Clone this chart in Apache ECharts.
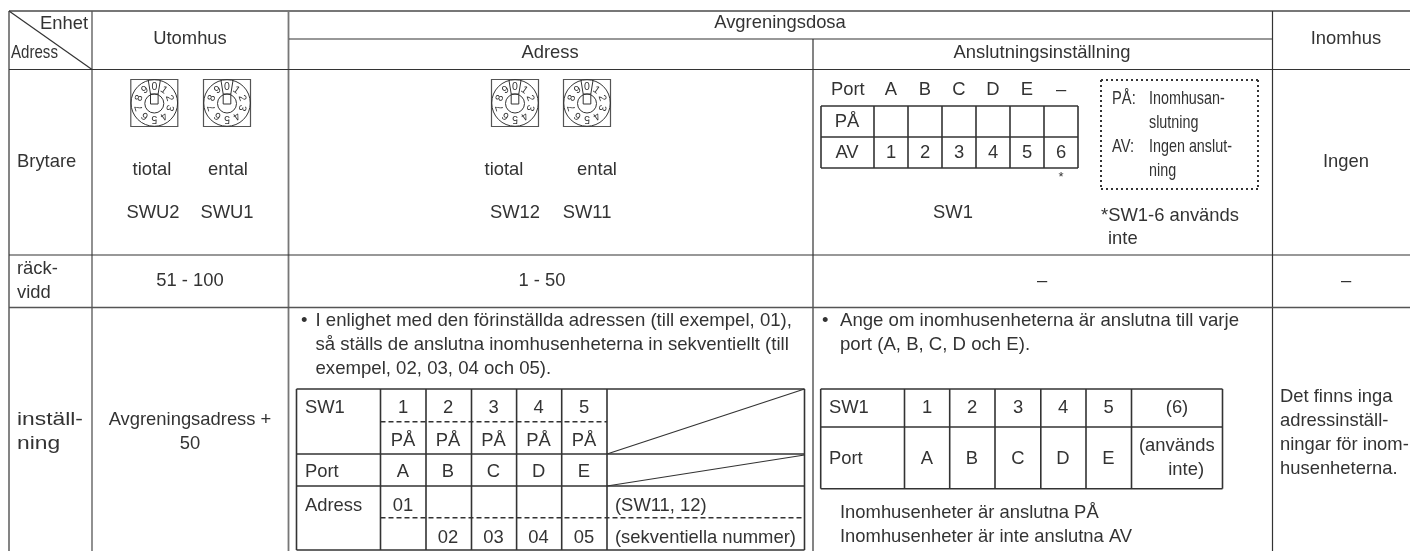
<!DOCTYPE html>
<html><head><meta charset="utf-8">
<style>html,body{margin:0;padding:0;background:#fff}#c{width:1410px;height:551px}</style>
<script src="https://cdn.jsdelivr.net/npm/echarts@6/dist/echarts.min.js"></script>
</head><body><div id="c"></div>
<script>
// ---- content ----
const unitHeaders = ['Enhet', 'Adress', 'Utomhus', 'Avgreningsdosa', 'Adress', 'Anslutningsinställning', 'Inomhus'];
const rowLabels = ['Brytare', 'räck-', 'vidd', 'inställ-', 'ning'];
const dialDigits = ['0', '1', '2', '3', '4', '5', '6', '7', '8', '9'];
const digitNames = ['tiotal', 'ental'];
const outdoorSwitches = ['SWU2', 'SWU1'];
const branchSwitches = ['SW12', 'SW11'];
const ports = ['A', 'B', 'C', 'D', 'E'];
const portNumbers = ['1', '2', '3', '4', '5'];
const onOff = ['PÅ', 'AV'];
const addresses = ['01', '02', '03', '04', '05'];
const ranges = ['51 - 100', '1 - 50', '–', '–'];
const legendLines = ['Inomhusan-', 'slutning', 'Ingen anslut-', 'ning'];
const noteLines = ['*SW1-6 används', 'inte'];
const addrLines = ['I enlighet med den förinställda adressen (till exempel, 01),', 'så ställs de anslutna inomhusenheterna in sekventiellt (till', 'exempel, 02, 03, 04 och 05).'];
const connLines = ['Ange om inomhusenheterna är anslutna till varje', 'port (A, B, C, D och E).'];
const connNotes = ['Inomhusenheter är anslutna PÅ', 'Inomhusenheter är inte anslutna AV'];
const indoorNote = ['Det finns inga', 'adressinställ-', 'ningar för inom-', 'husenheterna.'];
const outdoorSetting = ['Avgreningsadress +', '50'];

// ---- layout ----
const FS = 18.4, FL = 18.6, DY = 0.8;
const T = [];
function t(s, x, y, o) { T.push(Object.assign({ s, x, y: y + DY, a: 'left', fs: FS, sx: 1 }, o || {})); }
const C = { a: 'center' };
// header
t(unitHeaders[0], 88, 23, { a: 'right' });
t(unitHeaders[1], 11, 52, { sx: 0.82 });
t(unitHeaders[2], 190, 38, C);
t(unitHeaders[3], 780, 22, C);
t(unitHeaders[4], 550, 52, C);
t(unitHeaders[5], 1042, 52, C);
t(unitHeaders[6], 1346, 38, C);
// row labels
t(rowLabels[0], 17, 161);
t(rowLabels[1], 17, 268);
t(rowLabels[2], 17, 292);
t(rowLabels[3], 17, 419, { sx: 1.24 });
t(rowLabels[4], 17, 443, { sx: 1.24 });
// switch row
t(digitNames[0], 152, 169, C); t(digitNames[1], 228, 169, C);
t(outdoorSwitches[0], 153, 212, C); t(outdoorSwitches[1], 227, 212, C);
t(digitNames[0], 504, 169, C); t(digitNames[1], 597, 169, C);
t(branchSwitches[0], 515, 212, C); t(branchSwitches[1], 587, 212, C);
t('Port', 831, 89);
const smallCx = [891, 925, 959, 993, 1027, 1061];
ports.forEach((p, i) => t(p, smallCx[i], 89, C));
t('–', smallCx[5], 89, C);
t(onOff[0], 847, 121, C); t(onOff[1], 847, 152, C);
portNumbers.concat(['6']).forEach((p, i) => t(p, smallCx[i], 152, C));
t('*', 1061, 177, { a: 'center', fs: 13 });
t(onOff[0] + ':', 1112, 98, { sx: 0.8 });
t(onOff[1] + ':', 1112, 146, { sx: 0.8 });
[98, 122, 146, 170].forEach((y, i) => t(legendLines[i], 1149, y, { sx: 0.78 }));
t('SW1', 953, 212, C);
t(noteLines[0], 1101, 215); t(noteLines[1], 1108, 238);
t('Ingen', 1346, 161, C);
// range row
t(ranges[0], 190, 280, C); t(ranges[1], 542, 280, C); t(ranges[2], 1042, 280, C); t(ranges[3], 1346, 280, C);
// setting row
t(outdoorSetting[0], 190, 419, C); t(outdoorSetting[1], 190, 443, C);
t('•', 301, 320); t('•', 822, 320);
[320, 344, 368].forEach((y, i) => t(addrLines[i], 315.5, y, { fs: FL }));
[320, 344].forEach((y, i) => t(connLines[i], 840, y, { fs: FL }));
const aCx = [403, 448, 493.5, 538.6, 584];
t('SW1', 305, 407.5); t('Port', 305, 471); t('Adress', 305, 505);
aCx.forEach((x, i) => {
  t(portNumbers[i], x, 407.5, C); t(onOff[0], x, 440, C); t(ports[i], x, 471, C);
  if (i) t(addresses[i], x, 537, C);
});
t(addresses[0], aCx[0], 505, C);
t('(SW11, 12)', 615, 505); t('(sekventiella nummer)', 615, 537);
const bCx = [927, 972, 1018, 1063, 1108.5];
t('SW1', 829, 407.5); t('Port', 829, 458);
bCx.forEach((x, i) => { t(portNumbers[i], x, 407.5, C); t(ports[i], x, 458, C); });
t('(6)', 1177, 407.5, C); t('(används', 1139, 445); t('inte)', 1204, 469, { a: 'right' });
[512.5, 536].forEach((y, i) => t(connNotes[i], 840, y));
[396, 420, 444, 468].forEach((y, i) => t(indoorNote[i], 1280, y));

const GRAY = { c: '#777', w: 1.8 }, DK = { c: '#333', w: 1.2 }, MID = { c: '#555', w: 1.3 }, TB = { c: '#333', w: 1.6 }, DOT = { c: '#333', w: 2 };
const R = [];
function l(x1, y1, x2, y2, st, dash) { R.push({ x1, y1, x2, y2, st, dash }); }
// outer grid
l(9, 11, 1410, 11, GRAY);
l(9, 11, 9, 551, GRAY); l(92, 11, 92, 551, MID); l(288.5, 11, 288.5, 551, GRAY);
l(813, 39, 813, 551, GRAY); l(1272.5, 11, 1272.5, 551, DK);
l(289, 39, 1272, 39, DK); l(9, 69.5, 1410, 69.5, DK); l(9, 255, 1410, 255, DK); l(9, 307.5, 1410, 307.5, MID);
l(9, 11, 92, 69.5, DK);
// small on/off table
const sx = [821, 874, 908, 942, 976, 1010, 1044, 1078];
[106, 137, 168].forEach(y => l(sx[0], y, sx[7], y, TB));
sx.forEach(x => l(x, 106, x, 168, TB));
// dotted legend box
const dot = [2, 3];
l(1101, 80, 1258, 80, DOT, dot); l(1101, 189, 1258, 189, DOT, dot);
l(1101, 80, 1101, 189, DOT, dot); l(1258, 80, 1258, 189, DOT, dot);
// address table
const ax = [296.5, 380.5, 426, 471.5, 516.6, 561.7, 607, 804.5];
[389, 454, 486, 550].forEach(y => l(ax[0], y, ax[7], y, TB));
ax.forEach(x => l(x, 389, x, 550, TB));
const dash = [5, 3];
l(ax[1], 421.7, ax[6], 421.7, TB, dash); l(ax[1], 517.7, ax[7], 517.7, TB, dash);
l(ax[6], 454, ax[7], 389, DK); l(ax[6], 486, ax[7], 455, DK);
// connection table
const bx = [820.7, 904.5, 949.7, 995, 1040.8, 1086, 1131.5, 1222.5];
[389, 427, 488.7].forEach(y => l(bx[0], y, bx[7], y, TB));
bx.forEach(x => l(x, 389, x, 488.7, TB));

const dialCenters = [[154.3, 103], [227, 103], [515, 103], [587, 103]];

const pos = (api, x, y) => api.coord([x, y]);
const option = {
  animation: false,
  backgroundColor: '#fff',
  grid: { left: 0, right: 0, top: 0, bottom: 0 },
  xAxis: { type: 'value', min: 0, max: 1410, show: false },
  yAxis: { type: 'value', min: 0, max: 551, inverse: true, show: false },
  series: [
    { type: 'custom', coordinateSystem: 'cartesian2d', silent: true, clip: false, data: R.map((r, i) => [i]),
      renderItem(p, api) {
        const r = R[p.dataIndex], a = pos(api, r.x1, r.y1), b = pos(api, r.x2, r.y2);
        return { type: 'line', shape: { x1: a[0], y1: a[1], x2: b[0], y2: b[1] },
          style: { stroke: r.st.c, lineWidth: r.st.w, lineDash: r.dash || null } };
      } },
    { type: 'custom', coordinateSystem: 'cartesian2d', silent: true, clip: false, data: dialCenters,
      renderItem(p, api) {
        const [cx, cy] = dialCenters[p.dataIndex], c = pos(api, cx, cy), st = { stroke: '#333', lineWidth: 1, fill: null };
        const kids = [
          { type: 'rect', shape: { x: c[0] - 23.5, y: c[1] - 23.5, width: 47, height: 47 }, style: { stroke: '#555', lineWidth: 1.2, fill: null } },
          { type: 'circle', shape: { cx: c[0], cy: c[1], r: 23.3 }, style: st },
          { type: 'circle', shape: { cx: c[0], cy: c[1] + 0.5, r: 9.5 }, style: st },
          { type: 'rect', shape: { x: c[0] - 3.8, y: c[1] - 9, width: 7.6, height: 10 }, style: st },
          { type: 'line', shape: { x1: c[0] - 3.8, y1: c[1] - 9, x2: c[0] - 6, y2: c[1] - 22.5 }, style: st },
          { type: 'line', shape: { x1: c[0] + 3.8, y1: c[1] - 9, x2: c[0] + 6, y2: c[1] - 22.5 }, style: st }
        ];
        dialDigits.forEach((d, i) => {
          const ang = i * Math.PI / 5;
          kids.push({ type: 'text', x: c[0] + 16 * Math.sin(ang), y: c[1] - 16 * Math.cos(ang), rotation: -ang,
            style: { text: d, fontFamily: 'Liberation Sans', fontSize: 10.5, fill: '#333', align: 'center', verticalAlign: 'middle' } });
        });
        return { type: 'group', children: kids };
      } },
    { type: 'custom', coordinateSystem: 'cartesian2d', silent: true, clip: false, data: T.map((r, i) => [i]),
      renderItem(p, api) {
        const e = T[p.dataIndex], c = pos(api, e.x, e.y);
        return { type: 'text', x: c[0], y: c[1], scaleX: e.sx, scaleY: 1,
          style: { text: e.s, fontFamily: 'Liberation Sans', fontSize: e.fs, fill: '#333', align: e.a, verticalAlign: 'middle' } };
      } }
  ]
};
echarts.init(document.getElementById('c'), null, { renderer: 'canvas' }).setOption(option);
</script></body></html>
